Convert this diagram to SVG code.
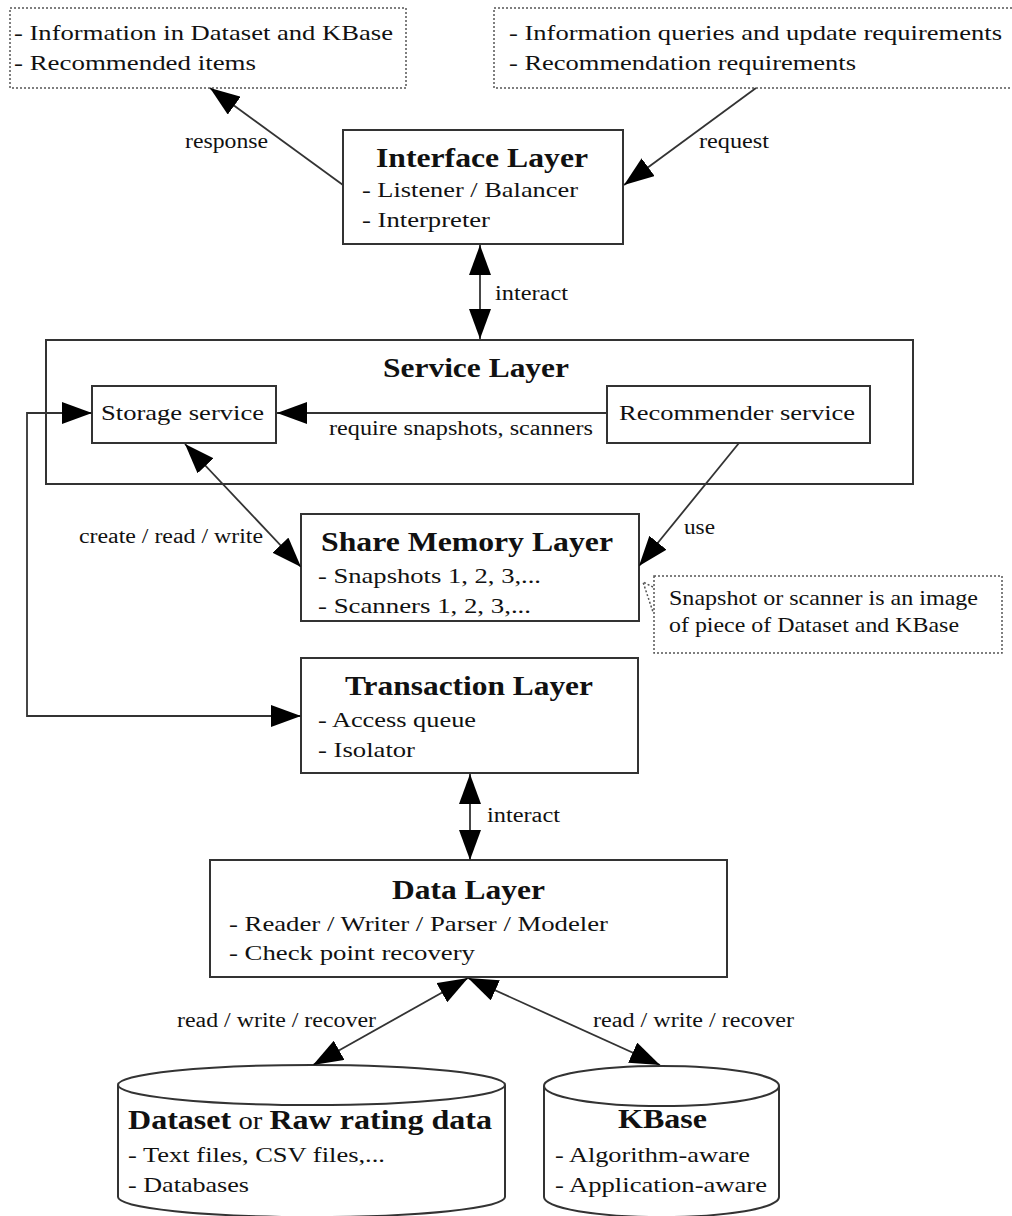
<svg xmlns="http://www.w3.org/2000/svg" width="1012" height="1216" viewBox="0 0 1012 1216">
<style>
  .box { fill: #fff; stroke: #333; stroke-width: 2; }
  .dot { fill: #fff; stroke: #555; stroke-width: 1.5; stroke-dasharray: 2 2; }
  .t { font-family: "Liberation Serif", "Times New Roman", serif; font-size: 22px; fill: #111; }
  .h { font-family: "Liberation Serif", "Times New Roman", serif; font-size: 28px; font-weight: bold; fill: #111; }
  .l { font-family: "Liberation Serif", "Times New Roman", serif; font-size: 20px; fill: #111; }
  .c { fill: none; stroke: #333; stroke-width: 1.8; }
</style>
<defs>
  <marker id="ah" markerUnits="userSpaceOnUse" markerWidth="32" markerHeight="22" refX="30" refY="11" orient="auto-start-reverse" viewBox="0 0 32 22">
    <path d="M0,0 L30,11 L0,22 Z" fill="#000"/>
  </marker>
</defs>
<rect width="1012" height="1216" fill="#fff"/>

<g id="resp-box">
  <rect class="dot" x="10" y="8" width="396" height="80"/>
  <text class="t" x="14" y="40" textLength="379" lengthAdjust="spacingAndGlyphs">- Information in Dataset and KBase</text>
  <text class="t" x="14" y="70" textLength="242" lengthAdjust="spacingAndGlyphs">- Recommended items</text>
</g>
<g id="req-box">
  <rect class="dot" x="494" y="8" width="520" height="80"/>
  <text class="t" x="509" y="40" textLength="493" lengthAdjust="spacingAndGlyphs">- Information queries and update requirements</text>
  <text class="t" x="509" y="70" textLength="347" lengthAdjust="spacingAndGlyphs">- Recommendation requirements</text>
</g>
<g id="interface">
  <rect class="box" x="343" y="130" width="280" height="114"/>
  <text class="h" x="376" y="167" textLength="212" lengthAdjust="spacingAndGlyphs">Interface Layer</text>
  <text class="t" x="362" y="197" textLength="216" lengthAdjust="spacingAndGlyphs">- Listener / Balancer</text>
  <text class="t" x="362" y="227" textLength="128" lengthAdjust="spacingAndGlyphs">- Interpreter</text>
</g>
<g id="service">
  <rect class="box" x="46" y="340" width="867" height="144"/>
  <text class="h" x="383" y="377" textLength="186" lengthAdjust="spacingAndGlyphs">Service Layer</text>
</g>
<g id="storage">
  <rect class="box" x="92" y="386" width="184" height="57"/>
  <text class="t" x="101" y="420" textLength="163" lengthAdjust="spacingAndGlyphs">Storage service</text>
</g>
<g id="recommender">
  <rect class="box" x="607" y="386" width="263" height="57"/>
  <text class="t" x="619" y="420" textLength="236" lengthAdjust="spacingAndGlyphs">Recommender service</text>
</g>
<g id="sharemem">
  <rect class="box" x="301" y="514" width="338" height="107"/>
  <text class="h" x="321" y="551" textLength="292" lengthAdjust="spacingAndGlyphs">Share Memory Layer</text>
  <text class="t" x="318" y="583" textLength="223" lengthAdjust="spacingAndGlyphs">- Snapshots 1, 2, 3,...</text>
  <text class="t" x="318" y="613" textLength="213" lengthAdjust="spacingAndGlyphs">- Scanners 1, 2, 3,...</text>
</g>
<g id="note">
  <rect class="dot" x="654" y="576" width="348" height="77"/>
  <path class="dot" fill="none" d="M653 587 L643 582 L653 612"/>
  <text class="t" x="669" y="605" textLength="309" lengthAdjust="spacingAndGlyphs">Snapshot or scanner is an image</text>
  <text class="t" x="669" y="632" textLength="290" lengthAdjust="spacingAndGlyphs">of piece of Dataset and KBase</text>
</g>
<g id="transaction">
  <rect class="box" x="301" y="658" width="337" height="115"/>
  <text class="h" x="345" y="695" textLength="248" lengthAdjust="spacingAndGlyphs">Transaction Layer</text>
  <text class="t" x="318" y="727" textLength="158" lengthAdjust="spacingAndGlyphs">- Access queue</text>
  <text class="t" x="318" y="757" textLength="97" lengthAdjust="spacingAndGlyphs">- Isolator</text>
</g>
<g id="data">
  <rect class="box" x="210" y="860" width="517" height="117"/>
  <text class="h" x="392" y="899" textLength="153" lengthAdjust="spacingAndGlyphs">Data Layer</text>
  <text class="t" x="229" y="931" textLength="379" lengthAdjust="spacingAndGlyphs">- Reader / Writer / Parser / Modeler</text>
  <text class="t" x="229" y="960" textLength="246" lengthAdjust="spacingAndGlyphs">- Check point recovery</text>
</g>
<g id="dataset">
  <path class="box" d="M118 1085 V1197 A193.5 20 0 0 0 505 1197 V1085"/>
  <ellipse class="box" cx="311.5" cy="1085" rx="193.5" ry="20"/>
  <text class="t" x="128" y="1129" textLength="364" lengthAdjust="spacingAndGlyphs" style="font-size:25px"><tspan style="font-weight:bold;font-size:28px">Dataset</tspan> or <tspan style="font-weight:bold;font-size:28px">Raw rating data</tspan></text>
  <text class="t" x="128" y="1162" textLength="257" lengthAdjust="spacingAndGlyphs">- Text files, CSV files,...</text>
  <text class="t" x="128" y="1192" textLength="121" lengthAdjust="spacingAndGlyphs">- Databases</text>
</g>
<g id="kbase">
  <path class="box" d="M544 1086 V1197 A117.5 20 0 0 0 779 1197 V1086"/>
  <ellipse class="box" cx="661.5" cy="1086" rx="117.5" ry="20"/>
  <text class="h" x="618" y="1128" textLength="89" lengthAdjust="spacingAndGlyphs">KBase</text>
  <text class="t" x="555" y="1162" textLength="195" lengthAdjust="spacingAndGlyphs">- Algorithm-aware</text>
  <text class="t" x="555" y="1192" textLength="212" lengthAdjust="spacingAndGlyphs">- Application-aware</text>
</g>

<g id="connectors">
  <line class="c" x1="343" y1="185" x2="210" y2="88" marker-end="url(#ah)"/>
  <line class="c" x1="756" y1="88" x2="624" y2="185" marker-end="url(#ah)"/>
  <line class="c" x1="480" y1="245" x2="480" y2="339" marker-start="url(#ah)" marker-end="url(#ah)"/>
  <line class="c" x1="607" y1="413" x2="277" y2="413" marker-end="url(#ah)"/>
  <path class="c" d="M92 413 H27 V716 H301" marker-start="url(#ah)" marker-end="url(#ah)"/>
  <line class="c" x1="185" y1="444" x2="301" y2="567" marker-start="url(#ah)" marker-end="url(#ah)"/>
  <line class="c" x1="739" y1="443" x2="639" y2="566" marker-end="url(#ah)"/>
  <line class="c" x1="470" y1="774" x2="470" y2="860" marker-start="url(#ah)" marker-end="url(#ah)"/>
  <line class="c" x1="468" y1="978" x2="313" y2="1065" marker-start="url(#ah)" marker-end="url(#ah)"/>
  <line class="c" x1="468" y1="978" x2="660" y2="1065" marker-start="url(#ah)" marker-end="url(#ah)"/>
  <text class="l" x="185" y="148" textLength="83" lengthAdjust="spacingAndGlyphs">response</text>
  <text class="l" x="699" y="148" textLength="70" lengthAdjust="spacingAndGlyphs">request</text>
  <text class="l" x="495" y="300" textLength="73" lengthAdjust="spacingAndGlyphs">interact</text>
  <text class="l" x="329" y="435" textLength="264" lengthAdjust="spacingAndGlyphs">require snapshots, scanners</text>
  <text class="l" x="79" y="543" textLength="184" lengthAdjust="spacingAndGlyphs">create / read / write</text>
  <text class="l" x="684" y="534" textLength="31" lengthAdjust="spacingAndGlyphs">use</text>
  <text class="l" x="487" y="822" textLength="73" lengthAdjust="spacingAndGlyphs">interact</text>
  <text class="l" x="177" y="1027" textLength="199" lengthAdjust="spacingAndGlyphs">read / write / recover</text>
  <text class="l" x="593" y="1027" textLength="201" lengthAdjust="spacingAndGlyphs">read / write / recover</text>
</g>
</svg>
